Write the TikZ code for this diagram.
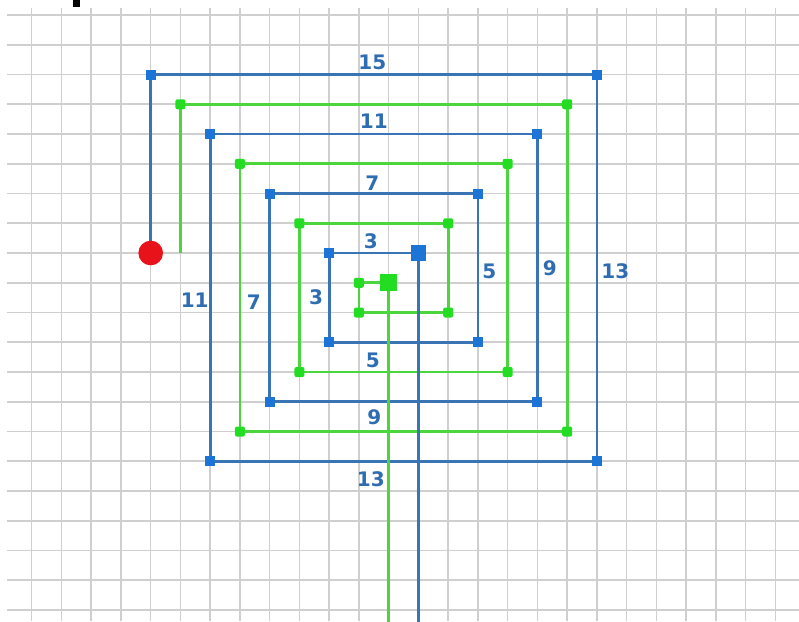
\documentclass[tikz,border=0pt]{standalone}
\usepackage{fontspec}
\setsansfont{DejaVu Sans}
\usetikzlibrary{positioning,backgrounds}
\definecolor{gridgray}{HTML}{CFCFCF}
\definecolor{lineblue}{HTML}{3A74B4}
\definecolor{markblue}{HTML}{1C74D6}
\definecolor{labblue}{HTML}{2F6DB3}
\definecolor{linegreen}{HTML}{4AD63C}
\definecolor{markgreen}{HTML}{22DD22}
\definecolor{dotred}{HTML}{E8121A}

\begin{document}
\begin{tikzpicture}[x=22.3125pt, y=-22.3125pt,
    gridline/.style={draw=gridgray, line width=1.2pt},
    bline/.style={draw=lineblue, line width=2pt},
    gline/.style={draw=linegreen, line width=2pt},
    bmark/.style={fill=markblue, inner sep=0pt, minimum size=7.5pt},
    gmark/.style={fill=markgreen, rounded corners=1.5pt, inner sep=0pt, minimum size=7.5pt},
    lab/.style={text=labblue, inner sep=0pt, font=\sffamily\bfseries\fontsize{15}{15}\selectfont}]
  \useasboundingbox (-1.0655,-0.5042) rectangle (25.792,20.370);

  % corner markers of the two spirals
  \node[circle, fill=dotred, inner sep=0pt, minimum size=18.5pt] (start) at (4,8) {};
  \foreach \i/\x/\y in {1/4/2, 2/19/2, 3/19/15, 4/6/15, 5/6/4, 6/17/4, 7/17/13,
                        8/8/13, 9/8/6, 10/15/6, 11/15/11, 12/10/11, 13/10/8}
    \node[bmark] (b\i) at (\x,\y) {};
  \node[fill=markblue, inner sep=0pt, minimum size=11.5pt] (bc) at (13,8) {};
  \foreach \i/\x/\y in {1/5/3, 2/18/3, 3/18/14, 4/7/14, 5/7/5, 6/16/5, 7/16/12,
                        8/9/12, 9/9/7, 10/14/7, 11/14/10, 12/11/10, 13/11/9}
    \node[gmark] (g\i) at (\x,\y) {};
  \node[fill=markgreen, inner sep=0pt, minimum size=13pt] (gc) at (12,9) {};
  \coordinate (gs) at (5,8);
  \coordinate (btail) at (13,20.4);
  \coordinate (gtail) at (12,20.4);

  \begin{scope}[on background layer]
    \fill[white] (-1.0655,-0.5042) rectangle (25.792,20.370);
    \fill[black] (1.39,-0.5042) rectangle (1.62,-0.27);
    \foreach \c in {0,...,25}
      \draw[gridline] (\c,-0.235) -- (\c,20.37);
    \foreach \r in {0,...,20}
      \draw[gridline] (-0.83,\r) -- (25.792,\r);
    \draw[bline] (start.center) -- (b1.center) -- (b2.center) -- (b3.center) -- (b4.center)
      -- (b5.center) -- (b6.center) -- (b7.center) -- (b8.center) -- (b9.center)
      -- (b10.center) -- (b11.center) -- (b12.center) -- (b13.center) -- (bc.center);
    \draw[gline] (gs) -- (g1.center) -- (g2.center) -- (g3.center) -- (g4.center)
      -- (g5.center) -- (g6.center) -- (g7.center) -- (g8.center) -- (g9.center)
      -- (g10.center) -- (g11.center) -- (g12.center) -- (g13.center) -- (gc.center);
    \draw[gline] (gc.center) -- (gtail);
    \draw[bline] (bc.center) -- (btail);
  \end{scope}

  % side lengths
  \node[lab] (t15) at (11.45,1.58) {15};
  \node[lab] (t11) at (11.5,3.56) {11};
  \node[lab] (t7) at (11.45,5.64) {7};
  \node[lab] (t3) at (11.4,7.62) {3};
  \node[lab] (r5) at (15.38,8.6) {5};
  \node[lab] (r9) at (17.42,8.5) {9};
  \node[lab] (r13) at (19.62,8.62) {13};
  \node[lab] (l11) at (5.48,9.58) {11};
  \node[lab] (l7) at (7.47,9.64) {7};
  \node[lab] (l3) at (9.56,9.5) {3};
  \node[lab] (d5) at (11.47,11.6) {5};
  \node[lab] (d9) at (11.52,13.52) {9};
  \node[lab] (d13) at (11.4,15.62) {13};
\end{tikzpicture}
\end{document}
